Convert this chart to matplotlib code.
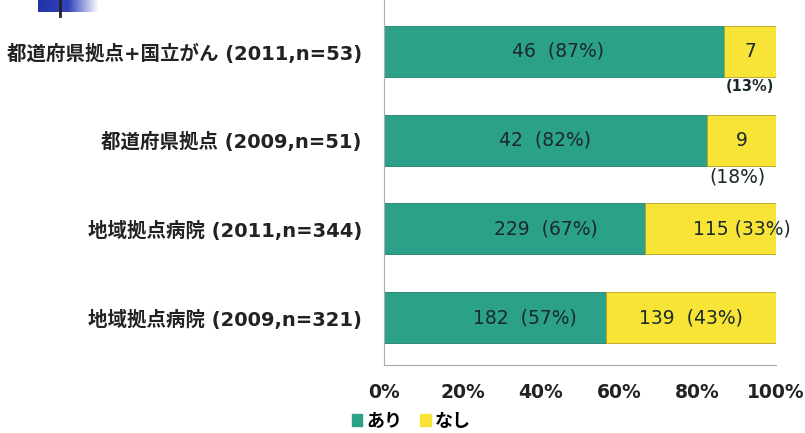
import numpy as np
import matplotlib
matplotlib.use("Agg")
import matplotlib.pyplot as plt
from matplotlib.patches import Rectangle

plt.rcParams['font.family'] = ['DejaVu Sans', 'Noto Sans CJK JP']

categories = ['都道府県拠点+国立がん (2011,n=53)',
              '都道府県拠点 (2009,n=51)',
              '地域拠点病院 (2011,n=344)',
              '地域拠点病院 (2009,n=321)']
ari = [46, 42, 229, 182]
nashi = [7, 9, 115, 139]
ticks = [0, 20, 40, 60, 80, 100]
legend_labels = ['あり', 'なし']

teal = '#2CA189'
yellow = '#F7E436'

fig = plt.figure(figsize=(8.05, 4.33), dpi=100)
ax = fig.add_axes([384 / 805, 1 - 365 / 433, 392 / 805, 365 / 433])

n = np.array(ari) + np.array(nashi)
p_ari = np.array(ari) / n * 100
p_nashi = np.array(nashi) / n * 100
y = np.arange(len(categories))

ax.barh(y, p_ari, height=0.575, color=teal, edgecolor='#1f7f6c', linewidth=0.6)
ax.barh(y, p_nashi, left=p_ari, height=0.575, color=yellow, edgecolor='#b8a020', linewidth=0.6)

ax.set_xlim(0, 100)
ax.set_ylim(3.535, -0.58)

# labels: count and share inside each segment
val_font = dict(fontsize=13.5, color='#1a2a2a', va='center')
shift_ari = [1, 0, 8, 7.5]
for i in range(len(categories)):
    pa = round(p_ari[i])
    ax.text(p_ari[i] / 2 + shift_ari[i], y[i], f'{ari[i]}  ({pa}%)', ha='center', **val_font)

pn = [round(v) for v in p_nashi]
mid_n = p_ari + p_nashi / 2
ax.text(mid_n[0], 0, f'{nashi[0]}', ha='center', **val_font)
ax.text(mid_n[0], 0.40, f'({pn[0]}%)', ha='center', va='center', fontsize=10.5,
        fontweight='bold', color='#1a2a2a')
ax.text(mid_n[1], 1, f'{nashi[1]}', ha='center', **val_font)
ax.text(mid_n[1] - 1, 1.42, f'({pn[1]}%)', ha='center', va='center', fontsize=13.5,
        color='#1a2a2a')
ax.text(mid_n[2] + 8, 2, f'{nashi[2]} ({pn[2]}%)', ha='center', **val_font)
ax.text(mid_n[3], 3, f'{nashi[3]}  ({pn[3]}%)', ha='center', **val_font)

ax.set_yticks(y)
ax.set_yticklabels(categories, fontsize=14, fontweight='bold', color='#222222')
ax.set_xticks(ticks)
ax.set_xticklabels([f'{t}%' for t in ticks], fontsize=13.5, fontweight='bold',
                   color='#222222')
ax.tick_params(length=0, pad=13)
ax.tick_params(axis='y', pad=16)

for s in ['top', 'right']:
    ax.spines[s].set_visible(False)
for s in ['left', 'bottom']:
    ax.spines[s].set_color('#aaaaaa')
    ax.spines[s].set_linestyle((0, (1, 1)))
    ax.spines[s].set_linewidth(0.8)

# legend
handles = [Rectangle((0, 0), 1, 1, color=teal), Rectangle((0, 0), 1, 1, color=yellow)]
fig.legend(handles, legend_labels, loc='center', bbox_to_anchor=(411 / 805, 1 - 421 / 433),
           ncol=2, frameon=False, handlelength=0.6, handleheight=0.6, handletextpad=0.2,
           columnspacing=1.0, prop={'family': 'Noto Sans CJK JP', 'weight': 'bold', 'size': 13})

# title bar ornament in the corner
orn = fig.add_axes([38 / 805, 1 - 12 / 433, 60 / 805, 12 / 433])
grad = np.linspace(0, 1, 100).reshape(1, -1)
cmap = matplotlib.colors.LinearSegmentedColormap.from_list('b', ['#2233aa', '#3344bb', '#ffffff'])
orn.imshow(grad, aspect='auto', cmap=cmap)
orn.axis('off')
fig.add_artist(plt.Line2D([60 / 805, 60 / 805], [1, 1 - 16 / 433], color='#222222', lw=2))

fig.savefig('out.png', dpi=100)
